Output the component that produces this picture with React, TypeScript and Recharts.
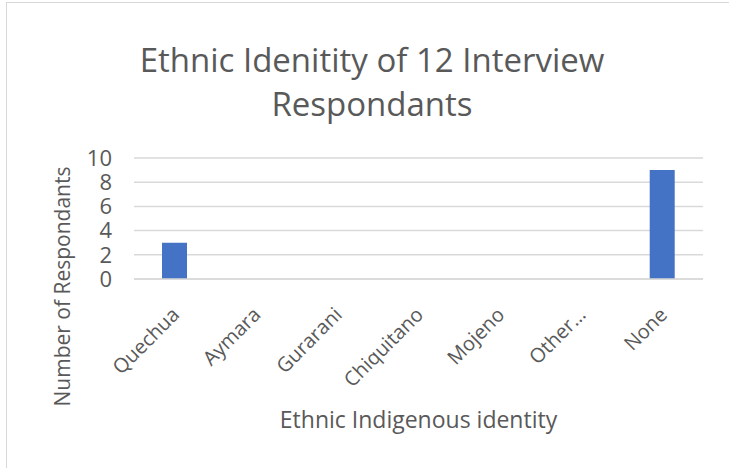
import { BarChart, Bar, XAxis, YAxis, CartesianGrid } from "recharts"

const categories = ["Quechua", "Aymara", "Gurarani", "Chiquitano", "Mojeno", "Other…", "None"]
const respondents = [3, 0, 0, 0, 0, 0, 9]
const yTicks = [0, 2, 4, 6, 8, 10]

const data = categories.map((name, i) => ({ name, value: respondents[i] }))

const FONT = "'Open Sans', 'Noto Sans', sans-serif"
const TEXT = "#595959"
const GRID = "#d9d9d9"

function CategoryTick({ x, y, payload }: any) {
  const tx = x + 6
  const ty = y + 29
  return (
    <text
      x={tx}
      y={ty}
      textAnchor="end"
      fill={TEXT}
      fontSize={20}
      fontFamily={FONT}
      transform={`rotate(-45 ${tx} ${ty})`}
    >
      {payload.value}
    </text>
  )
}

export default function App() {
  return (
    <div style={{ position: "absolute", left: 0, top: 0, width: 729, height: 468, background: "#fff" }}>
      <div style={{ position: "absolute", left: 6, top: 2, width: 723, height: 466, borderTop: `1px solid ${GRID}`, borderLeft: `1px solid ${GRID}` }} />
      <div
        style={{
          position: "absolute",
          left: 0,
          top: 38,
          width: 744,
          textAlign: "center",
          fontFamily: FONT,
          fontSize: 33,
          lineHeight: "44px",
          color: TEXT,
        }}
      >
        Ethnic Idenitity of 12 Interview
        <br />
        Respondants
      </div>
      <BarChart width={729} height={468} data={data} margin={{ top: 158, right: 26, bottom: 0, left: 0 }}>
        <CartesianGrid vertical={false} stroke={GRID} strokeWidth={1.5} />
        <XAxis
          dataKey="name"
          height={189}
          interval={0}
          axisLine={{ stroke: GRID, strokeWidth: 1.5 }}
          tickLine={false}
          tick={<CategoryTick />}
          label={{
            content: ({ viewBox }: any) => (
              <text
                x={viewBox.x + viewBox.width / 2}
                y={viewBox.y + 149}
                textAnchor="middle"
                fill={TEXT}
                fontSize={23}
                fontFamily={FONT}
              >
                Ethnic Indigenous identity
              </text>
            ),
          }}
        />
        <YAxis
          width={134}
          domain={[0, 10]}
          ticks={yTicks}
          interval={0}
          axisLine={false}
          tickLine={false}
          tickMargin={16}
          tick={{ fill: TEXT, fontSize: 22, fontFamily: FONT }}
          label={{
            content: ({ viewBox }: any) => {
              const cx = 62
              const cy = viewBox.y + viewBox.height / 2 + 68
              return (
                <text
                  x={cx}
                  y={cy}
                  textAnchor="middle"
                  dominantBaseline="central"
                  fill={TEXT}
                  fontSize={21}
                  fontFamily={FONT}
                  transform={`rotate(-90 ${cx} ${cy})`}
                >
                  Number of Respondants
                </text>
              )
            },
          }}
        />
        <Bar dataKey="value" fill="#4472c4" barSize={25} isAnimationActive={false} />
      </BarChart>
    </div>
  )
}
